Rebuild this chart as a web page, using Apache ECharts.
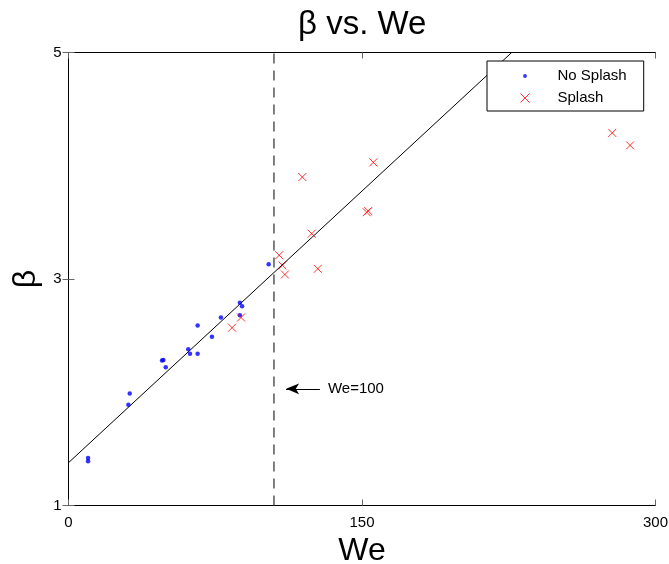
<!DOCTYPE html>
<html>
<head>
<meta charset="utf-8">
<script src="https://cdn.jsdelivr.net/npm/echarts@6/dist/echarts.min.js"></script>
<style>
  html, body { margin: 0; padding: 0; background: #fff; }
  #container { width: 669px; height: 564px; }
</style>
</head>
<body>
<div id="container"></div>
<script>
// 数据: [We, beta]
var noSplash = [
  [10.0, 1.42], [10.0, 1.39], [31.3, 1.99], [30.6, 1.89],
  [47.8, 2.28], [48.5, 2.285], [49.7, 2.22], [61.2, 2.38],
  [62.1, 2.34], [66.0, 2.34], [66.0, 2.59], [73.3, 2.49],
  [77.9, 2.66], [87.6, 2.79], [88.7, 2.76], [87.6, 2.68],
  [102.3, 3.13]
];
var splash = [
  [83.6, 2.57], [88.2, 2.66], [107.7, 3.21], [109.3, 3.12],
  [110.6, 3.04], [155.8, 4.03], [119.5, 3.90], [153.2, 3.60],
  [152.4, 3.59], [124.3, 3.40], [127.4, 3.09], [277.9, 4.29],
  [287.0, 4.18]
];
var fitLine = [[0, 1.378], [226.5, 5]];
var weLimit = [[105, 1], [105, 5]];
var arrowFrom = [128.5, 2.03];
var arrowTo = [111.2, 2.03];
var xTicks = [0, 150, 300];
var yTicks = [1, 3, 5];

var font = 'Liberation Sans, Arial, Helvetica, sans-serif';
var xPath = 'path://M0,0L10,10M10,0L0,10';
var dotPath = 'path://M0,0M9,9M2.6,4.5A1.9,1.9 0 1 1 6.4,4.5A1.9,1.9 0 1 1 2.6,4.5Z';

window.onload = function () {
  var myChart = echarts.init(document.getElementById('container'));

  var tickStyle = { show: true, inside: true, length: 6, lineStyle: { color: '#666', width: 1 } };
  var lineStyle = { color: '#000', width: 1 };

  myChart.setOption({
    animation: false,
    backgroundColor: '#fff',
    title: {
      text: 'β vs. We',
      left: 293,
      top: 3,
      textStyle: { fontFamily: font, fontSize: 33, fontWeight: 'normal', color: '#000' }
    },
    legend: {
      left: 487,
      top: 61,
      orient: 'vertical',
      padding: [7, 17, 5, 33],
      itemGap: 6,
      itemWidth: 9,
      itemHeight: 9,
      backgroundColor: '#fff',
      borderColor: '#000',
      borderWidth: 1,
      borderRadius: 0,
      textStyle: { fontFamily: font, fontSize: 15, color: '#000', padding: [0, 0, 0, 23], lineHeight: 16 },
      data: [
        { name: 'No Splash', icon: dotPath, itemStyle: { color: '#0000ff', borderWidth: 0 } },
        { name: 'Splash', icon: xPath, itemStyle: { color: 'transparent', borderColor: '#ff0000', borderWidth: 1 } }
      ]
    },
    grid: { left: 68.5, right: 13.5, top: 52.5, bottom: 58.5, outerBoundsMode: 'none', containLabel: false },
    xAxis: [{
      type: 'value', min: 0, max: 300,
      name: 'We', nameLocation: 'middle', nameGap: 26,
      nameTextStyle: { fontFamily: font, fontSize: 32, color: '#000' },
      axisLine: { show: true, lineStyle: lineStyle },
      axisTick: Object.assign({ customValues: xTicks }, tickStyle),
      axisLabel: { customValues: xTicks, margin: 10, fontFamily: font, fontSize: 15, color: '#000' },
      splitLine: { show: false }
    }, {
      type: 'value', min: 0, max: 300, position: 'top',
      axisLine: { show: true, lineStyle: lineStyle },
      axisTick: Object.assign({ customValues: xTicks }, tickStyle),
      axisLabel: { show: false },
      splitLine: { show: false }
    }],
    yAxis: [{
      type: 'value', min: 1, max: 5,
      name: 'β', nameLocation: 'middle', nameGap: 19, nameRotate: 90,
      nameTextStyle: { fontFamily: font, fontSize: 32, color: '#000' },
      axisLine: { show: true, lineStyle: lineStyle },
      axisTick: Object.assign({ customValues: yTicks }, tickStyle),
      axisLabel: { customValues: yTicks, margin: 7, fontFamily: font, fontSize: 15, color: '#000' },
      splitLine: { show: false }
    }, {
      type: 'value', min: 1, max: 5, position: 'right',
      axisLine: { show: true, lineStyle: lineStyle },
      axisTick: Object.assign({ customValues: yTicks }, tickStyle),
      axisLabel: { show: false },
      splitLine: { show: false }
    }],
    series: [{
      name: 'fit',
      type: 'line',
      data: fitLine,
      symbol: 'none',
      silent: true,
      lineStyle: { color: '#000', width: 1 },
      z: 1
    }, {
      name: 'We=100',
      type: 'line',
      data: weLimit,
      symbol: 'none',
      silent: true,
      lineStyle: { color: '#555', width: 1.5, type: [10, 7] },
      markLine: {
        silent: true,
        symbol: ['none', 'arrow'],
        symbolSize: [8, 13],
        lineStyle: { color: '#000', width: 1, type: 'solid' },
        label: {
          show: true, position: 'start', distance: 8,
          formatter: 'We=100',
          fontFamily: font, fontSize: 15, color: '#000'
        },
        data: [[{ coord: arrowFrom }, { coord: arrowTo }]]
      },
      z: 1
    }, {
      name: 'No Splash',
      type: 'scatter',
      data: noSplash,
      symbol: 'circle',
      symbolSize: 4.5,
      itemStyle: { color: '#0000ff' },
      z: 3
    }, {
      name: 'Splash',
      type: 'scatter',
      data: splash,
      symbol: xPath,
      symbolSize: 8,
      itemStyle: { color: 'transparent', borderColor: '#ff0000', borderWidth: 1 },
      z: 3
    }]
  });
};
</script>
</body>
</html>
